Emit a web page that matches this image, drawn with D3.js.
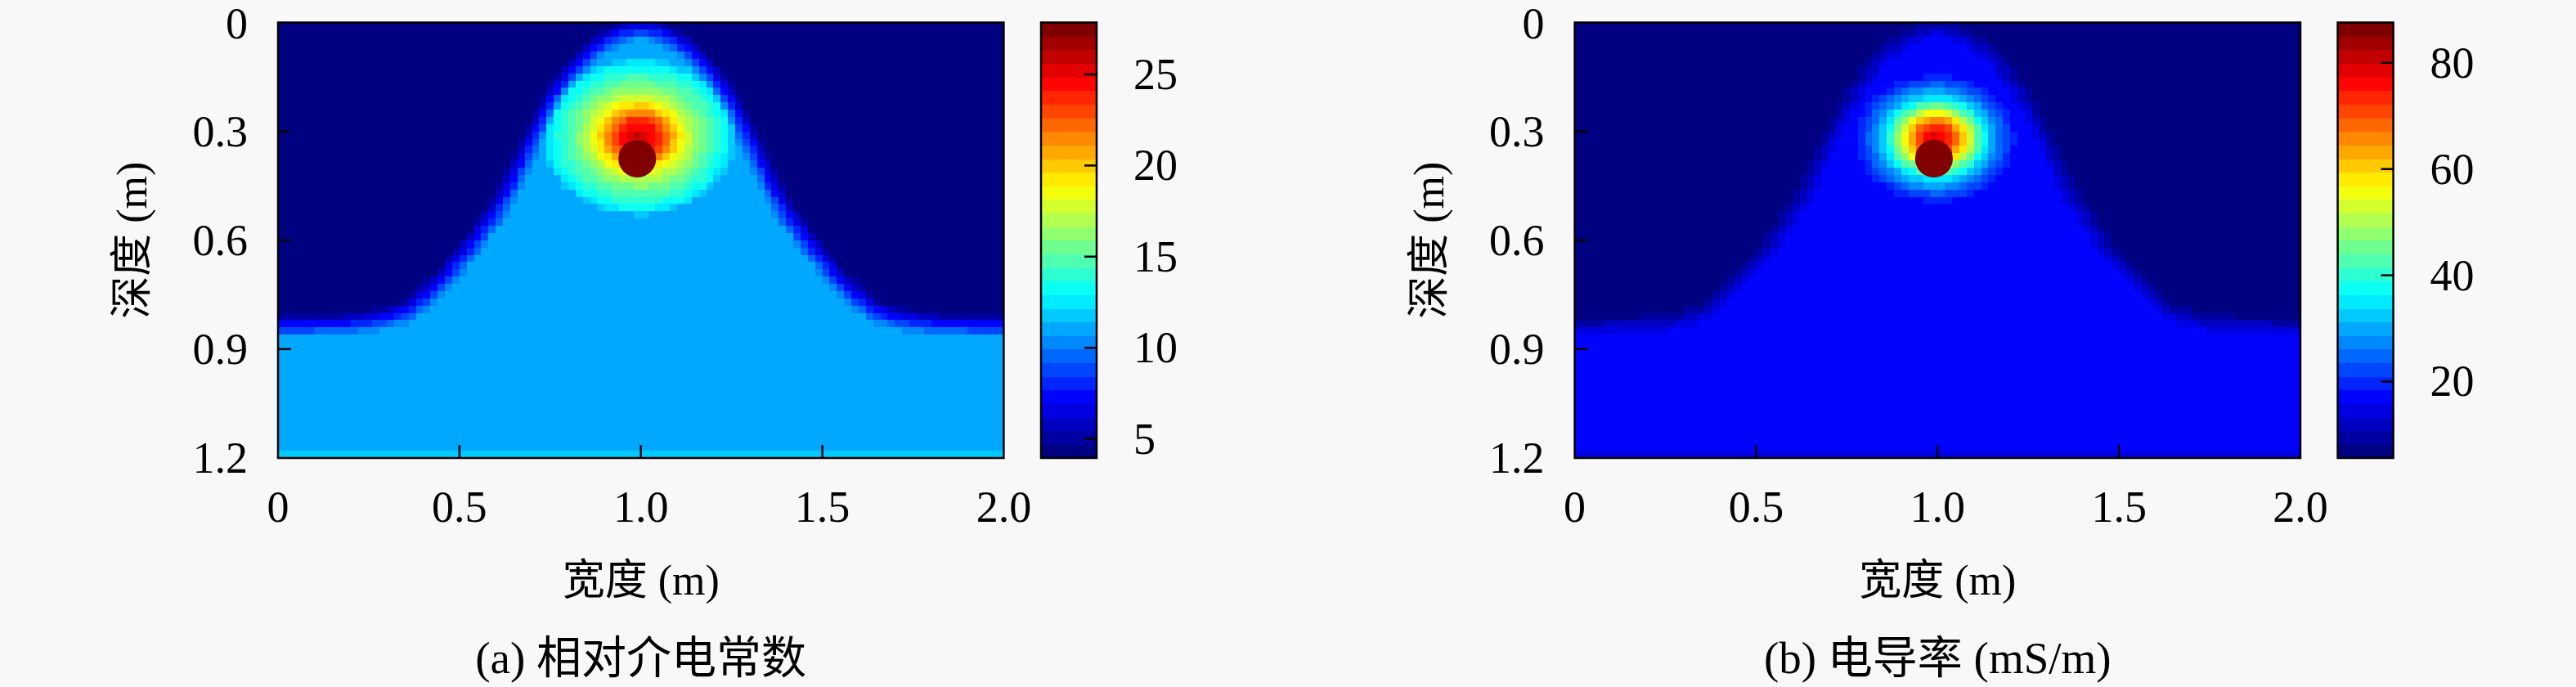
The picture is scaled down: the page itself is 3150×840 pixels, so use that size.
<!DOCTYPE html>
<html>
<head>
<meta charset="utf-8">
<script src="https://cdn.jsdelivr.net/npm/d3@7"></script>
<style>
  body { margin: 0; background: #f8f8f8; }
  text { font-family: "Liberation Serif", "Noto Sans CJK SC", serif; fill: #000; }
</style>
</head>
<body>
<svg id="chart" width="3150" height="840"></svg>
<script>
// model grid (m)
const gridStep = 0.02;
const widthM = 2.0;
const depthM = 1.2;

const xTicks = [0, 0.5, 1.0, 1.5, 2.0];
const xTickLabels = ["0", "0.5", "1.0", "1.5", "2.0"];
const yTicks = [0, 0.3, 0.6, 0.9, 1.2];
const yTickLabels = ["0", "0.3", "0.6", "0.9", "1.2"];

// depth of the hill interface, read every 0.05 m from x = 0 to 2.0
const ifaceX = d3.range(41).map(i => i * 0.05);
const ifaceDepth = [0.835, 0.834, 0.833, 0.832, 0.828, 0.822, 0.812, 0.795, 0.757, 0.71,
    0.655, 0.59, 0.52, 0.43, 0.32, 0.22, 0.145, 0.09, 0.05, 0.025, 0.015,
    0.025, 0.05, 0.09, 0.145, 0.22, 0.32, 0.43, 0.52, 0.59, 0.655,
    0.71, 0.757, 0.795, 0.812, 0.822, 0.828, 0.832, 0.833, 0.834, 0.835];
const transitionWidth = 0.07;

// halo round the target, values against normalised radius
const haloRho = [0, 0.2, 0.35, 0.5, 0.65, 0.8, 0.9, 1.0];
const epsHalo = [26, 24, 20.5, 17.5, 15.5, 14, 13, 11.0];
const sigHalo = [80, 72, 60, 45, 33, 25, 21, 17];

// layer values: [top, hill, bottom row]
const epsLayers = [3.95, 11.0, 11.8];
const sigLayers = [5.6, 17, 14.5];

// colour bar ranges and ticks
const epsRange = [3.95, 27.85];
const sigRange = [5.6, 87.6];
const epsTicks = [5, 10, 15, 20, 25];
const sigTicks = [20, 40, 60, 80];

// target: centre x, centre depth, radius
const target = [0.99, 0.375, 0.052];
// halo: centre x, centre depth, radius x, radius depth
const epsHaloShape = [0.995, 0.315, 0.27, 0.22];
const sigHaloShape = [0.995, 0.32, 0.225, 0.18];

const captions = ["(a) 相对介电常数", "(b) 电导率 (mS/m)"];

const nLevels = 32;
function jet(t) {
    const c = v => Math.round(255 * Math.max(0, Math.min(1, v)));
    return d3.rgb(c(1.5 - Math.abs(4 * t - 3)), c(1.5 - Math.abs(4 * t - 2)), c(1.5 - Math.abs(4 * t - 1))).formatHex();
}
const jetColors = d3.range(nLevels).map(i => jet(i / (nLevels - 1)));

const iface = d3.scaleLinear().domain(ifaceX).range(ifaceDepth).clamp(true);

const panels = [
    { x0: 340, layers: epsLayers, halo: d3.scaleLinear().domain(haloRho).range(epsHalo).clamp(true),
      shape: epsHaloShape, range: epsRange, ticks: epsTicks, caption: captions[0] },
    { x0: 1925.6, layers: sigLayers, halo: d3.scaleLinear().domain(haloRho).range(sigHalo).clamp(true),
      shape: sigHaloShape, range: sigRange, ticks: sigTicks, caption: captions[1] }
];

const plotTop = 27.5, plotBottom = 560;
const plotW = 887.4;
const cbGap = 933, cbW = 68;

const svg = d3.select("#chart");

function fieldValue(p, x, z) {
    const [air, soil, last] = p.layers;
    if (z > depthM - gridStep) return last;
    const slope = (iface(x + 0.01) - iface(x - 0.01)) / 0.02;
    const d = (z - iface(x)) / Math.sqrt(1 + slope * slope);
    const s = Math.max(0, Math.min(1, 0.5 + d / transitionWidth));
    let v = air + (soil - air) * s;
    const [cx, cz, rx, rz] = p.shape;
    const rho = Math.hypot((x - cx) / rx, (z - cz) / rz);
    if (rho < 1) v += p.halo(rho) - soil;
    return v;
}

panels.forEach((p, k) => {
    const x = d3.scaleLinear().domain([0, widthM]).range([p.x0, p.x0 + plotW]);
    const y = d3.scaleLinear().domain([0, depthM]).range([plotTop, plotBottom]);
    const color = d3.scaleQuantize().domain(p.range).range(jetColors);

    const cells = [];
    d3.range(Math.round(widthM / gridStep)).forEach(i => {
        d3.range(Math.round(depthM / gridStep)).forEach(j => {
            const cx = (i + 0.5) * gridStep, cz = (j + 0.5) * gridStep;
            cells.push({ x: i * gridStep, z: j * gridStep, v: fieldValue(p, cx, cz) });
        });
    });

    svg.append("clipPath").attr("id", "clip" + k)
        .append("rect").attr("x", x(0)).attr("y", y(0))
        .attr("width", x(widthM) - x(0)).attr("height", y(depthM) - y(0));

    const g = svg.append("g").attr("clip-path", `url(#clip${k})`);
    const cw = x(gridStep) - x(0), ch = y(gridStep) - y(0);
    g.selectAll("rect").data(cells).join("rect")
        .attr("x", d => x(d.x)).attr("y", d => y(d.z))
        .attr("width", cw + 0.6).attr("height", ch + 0.6)
        .attr("shape-rendering", "crispEdges")
        .attr("fill", d => color(d.v));

    g.append("circle")
        .attr("cx", x(target[0])).attr("cy", y(target[1]))
        .attr("r", x(target[2]) - x(0))
        .attr("fill", color(p.range[1]));

    // frame and ticks
    svg.append("rect").attr("x", x(0)).attr("y", y(0))
        .attr("width", x(widthM) - x(0)).attr("height", y(depthM) - y(0))
        .attr("fill", "none").attr("stroke", "#000").attr("stroke-width", 2.5);

    svg.append("g").selectAll("line").data(xTicks.slice(1, -1)).join("line")
        .attr("x1", d => x(d)).attr("x2", d => x(d))
        .attr("y1", plotBottom).attr("y2", plotBottom - 16)
        .attr("stroke", "#000").attr("stroke-width", 2.5);
    svg.append("g").selectAll("line").data(yTicks.slice(1, -1)).join("line")
        .attr("x1", x(0)).attr("x2", x(0) + 16)
        .attr("y1", d => y(d)).attr("y2", d => y(d))
        .attr("stroke", "#000").attr("stroke-width", 2.5);

    svg.append("g").selectAll("text").data(xTicks).join("text")
        .attr("x", d => x(d)).attr("y", 638)
        .attr("text-anchor", "middle").attr("font-size", 54)
        .text((d, i) => xTickLabels[i]);
    svg.append("g").selectAll("text").data(yTicks).join("text")
        .attr("x", x(0) - 37).attr("y", d => Math.max(y(d) + 18, 47))
        .attr("text-anchor", "end").attr("font-size", 54)
        .text((d, i) => yTickLabels[i]);

    svg.append("text")
        .attr("x", (x(0) + x(widthM)) / 2).attr("y", 727)
        .attr("text-anchor", "middle").attr("font-size", 52)
        .text("宽度 (m)");
    svg.append("text")
        .attr("transform", `translate(${p.x0 - 179 + 18},${(plotTop + plotBottom) / 2}) rotate(-90)`)
        .attr("text-anchor", "middle").attr("font-size", 52)
        .text("深度 (m)");
    svg.append("text")
        .attr("x", (x(0) + x(widthM)) / 2).attr("y", 823)
        .attr("text-anchor", "middle").attr("font-size", 55)
        .text(p.caption);

    // colour bar
    const cbX = p.x0 + cbGap;
    const cy = d3.scaleLinear().domain(p.range).range([plotBottom, plotTop]);
    const step = (p.range[1] - p.range[0]) / nLevels;
    svg.append("g").selectAll("rect").data(jetColors).join("rect")
        .attr("x", cbX).attr("width", cbW)
        .attr("y", (d, i) => cy(p.range[0] + (i + 1) * step))
        .attr("height", cy(p.range[0]) - cy(p.range[0] + step) + 0.6)
        .attr("shape-rendering", "crispEdges")
        .attr("fill", d => d);
    svg.append("rect").attr("x", cbX).attr("y", plotTop)
        .attr("width", cbW).attr("height", plotBottom - plotTop)
        .attr("fill", "none").attr("stroke", "#000").attr("stroke-width", 2.5);
    svg.append("g").selectAll("line").data(p.ticks).join("line")
        .attr("x1", cbX + cbW).attr("x2", cbX + cbW - 15)
        .attr("y1", d => cy(d)).attr("y2", d => cy(d))
        .attr("stroke", "#000").attr("stroke-width", 2.5);
    svg.append("g").selectAll("text").data(p.ticks).join("text")
        .attr("x", cbX + cbW + 45).attr("y", d => cy(d) + 18)
        .attr("font-size", 54)
        .text(d => d);
});
</script>
</body>
</html>
